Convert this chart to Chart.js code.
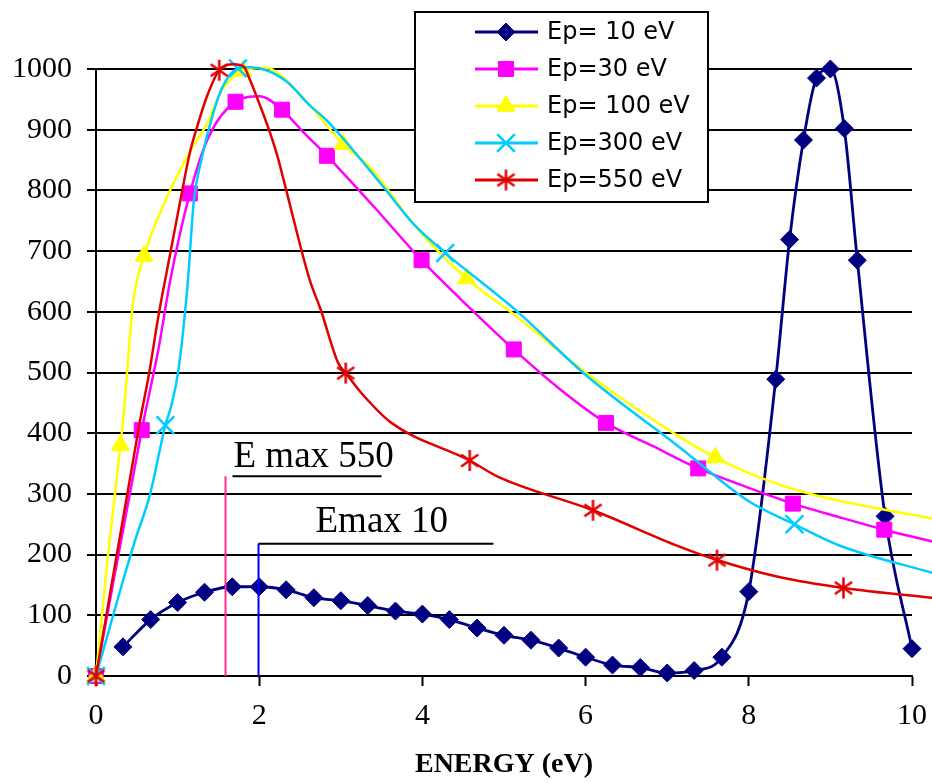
<!DOCTYPE html>
<html>
<head>
<meta charset="utf-8">
<title>Energy distribution</title>
<script src="https://cdn.jsdelivr.net/npm/chart.js@4.4.1/dist/chart.umd.min.js"></script>
<style>
  html, body { margin: 0; padding: 0; background: #fff; }
  #wrap { width: 932px; height: 783px; }
</style>
</head>
<body>
<div id="wrap"><canvas id="energy-chart" width="932" height="783"></canvas></div>
<script>
// series names
const labels = ["Ep= 10 eV", "Ep=30 eV", "Ep= 100 eV", "Ep=300 eV", "Ep=550 eV"];

// Ep = 10 eV
const x10 = [0.33, 0.67, 1.0, 1.33, 1.67, 2.0, 2.33, 2.67, 3.0, 3.33, 3.67, 4.0, 4.33, 4.67, 5.0, 5.33,
  5.67, 6.0, 6.33, 6.67, 7.0, 7.33, 7.67, 8.0, 8.33, 8.5, 8.67, 8.83, 9.0, 9.17, 9.33, 9.67, 10.0];
const y10 = [48, 93, 121, 138, 147, 147, 142, 129, 124, 116, 107, 102, 93, 79, 67, 59,
  46, 31, 18, 14, 5, 9, 31, 139, 489, 719, 883, 985, 1000, 902, 685, 263, 45];
const marks10 = x10;

// Ep = 30 eV
const x30 = [0, 0.56, 0.77, 0.91, 1.15, 1.38, 1.71, 2.0, 2.28, 2.54, 2.83, 3.42, 3.99, 4.56, 5.12, 5.69,
  6.25, 6.82, 7.38, 7.96, 8.54, 9.1, 9.66, 10.3];
const y30 = [0, 405, 542, 652, 795, 888, 946, 955, 933, 896, 857, 771, 685, 609, 538, 472,
  417, 379, 342, 312, 284, 262, 241, 220];
const marks30 = [0, 0.56, 1.15, 1.71, 2.28, 2.83, 3.99, 5.12, 6.25, 7.38, 8.54, 9.66];

// Ep = 100 eV
const x100 = [0, 0.14, 0.3, 0.345, 0.38, 0.455, 0.59, 0.87, 1.16, 1.38, 1.52, 1.8, 2.09, 2.26, 2.62,
  3.03, 3.36, 3.6, 3.85, 4.54, 5.11, 6.05, 7.15, 7.59, 7.97, 8.7, 10.3];
const y100 = [0, 190, 380, 440, 498, 616, 692, 789, 866, 915, 960, 997, 1002, 990, 940,
  876, 838, 797, 751, 655, 597, 495, 394, 360, 336, 302, 258];
const marks100 = [0, 0.3, 0.59, 1.8, 3.03, 4.54, 7.59];

// Ep = 300 eV
const x300 = [0, 0.32, 0.48, 0.66, 0.85, 0.93, 1.01, 1.12, 1.2, 1.28, 1.44, 1.56, 1.74, 1.89, 2.09,
  2.34, 2.62, 2.83, 3.52, 3.89, 4.28, 5.15, 6.01, 7.15, 8.0, 8.56, 9.11, 10.3];
const y300 = [0, 152, 224, 298, 413, 449, 504, 641, 784, 844, 929, 973, 1001, 1003, 998,
  979, 940, 915, 806, 745, 697, 602, 495, 377, 288, 250, 215, 168];
const marks300 = [0, 0.85, 1.74, 4.28, 8.56];

// Ep = 550 eV
const x550 = [0, 0.54, 0.65, 0.77, 0.91, 1.05, 1.15, 1.24, 1.36, 1.51, 1.69, 1.81, 1.89, 2.01, 2.13,
  2.22, 2.3, 2.62, 2.75, 2.97, 3.06, 3.26, 3.62, 4.58, 4.93, 6.09, 7.15, 7.61, 8.37, 9.16, 10.3];
const y550 = [0, 421, 498, 597, 696, 795, 862, 905, 955, 998, 1008, 1004, 981, 940, 896,
  858, 817, 652, 605, 515, 499, 465, 417, 355, 328, 273, 213, 191, 163, 145, 128];
const marks550 = [0, 1.51, 3.06, 4.58, 6.09, 7.61, 9.16];

// energy of the maxima, marked with a vertical bar
const emaxLabels = ["E max 550", "Emax 10"];
const emaxEnergy = [1.58, 1.98];
const emaxHeight = [329, 218];

const xTicks = [0, 2, 4, 6, 8, 10];

const colors = ["#000080", "#ff00ff", "#ffff00", "#00ccff", "#e00000"];
const emaxColors = ["#ff2b8f", "#0000ff"];
const serif = "'Liberation Serif', 'Times New Roman', serif";

// six armed star for the 550 eV curve
function asterisk(color, r) {
  const c = document.createElement("canvas");
  c.width = c.height = Math.ceil(2 * r + 4);
  const g = c.getContext("2d");
  const m = c.width / 2;
  g.strokeStyle = color;
  g.lineWidth = 2.5;
  g.beginPath();
  [90, 35, 145].forEach((a) => {
    const dx = r * Math.cos((a * Math.PI) / 180);
    const dy = r * Math.sin((a * Math.PI) / 180);
    g.moveTo(m - dx, m - dy);
    g.lineTo(m + dx, m + dy);
  });
  g.stroke();
  return c;
}

const markers = [
  { style: "rectRot", radius: 9, border: 1 },
  { style: "rect", radius: 10.6, border: 1 },
  { style: "triangle", radius: 10.5, border: 1 },
  { style: "crossRot", radius: 12.5, border: 2.5 },
  { style: asterisk(colors[4], 10.5), radius: 10, border: 1 },
];

function makeSeries(i, xs, ys, marks) {
  const m = markers[i];
  const hasMark = (c) => c.dataIndex !== undefined && marks.includes(xs[c.dataIndex]);
  return {
    label: labels[i],
    data: xs.map((x, k) => ({ x: x, y: ys[k] })),
    borderColor: colors[i],
    backgroundColor: colors[i],
    borderWidth: i === 0 ? 2.8 : 2.5,
    cubicInterpolationMode: "monotone",
    clip: false,
    order: 4 - i,
    pointStyle: (c) => (hasMark(c) ? m.style : "circle"),
    pointRadius: (c) => (hasMark(c) ? m.radius : 0),
    pointBorderWidth: m.border,
    pointHoverRadius: 0,
  };
}

const datasets = [
  makeSeries(0, x10, y10, marks10),
  makeSeries(1, x30, y30, marks30),
  makeSeries(2, x100, y100, marks100),
  makeSeries(3, x300, y300, marks300),
  makeSeries(4, x550, y550, marks550),
];

// vertical bars, captions and the boxed key
const overlay = {
  id: "overlay",
  afterDatasetsDraw(chart) {
    const { ctx } = chart;
    const xs = chart.scales.x;
    const ys = chart.scales.y;
    const offsets = [
      { from: 7, to: 156, textX: 8, textY: 9 },
      { from: 0, to: 235, textX: 57, textY: 12 },
    ];
    ctx.save();
    ctx.lineCap = "butt";
    emaxEnergy.forEach((e, i) => {
      const px = Math.round(xs.getPixelForValue(e)) + 0.5;
      const top = ys.getPixelForValue(emaxHeight[i]);
      const o = offsets[i];
      ctx.strokeStyle = emaxColors[i];
      ctx.lineWidth = 2;
      ctx.beginPath();
      ctx.moveTo(px, ys.getPixelForValue(0));
      ctx.lineTo(px, top);
      ctx.stroke();

      ctx.strokeStyle = "#000";
      ctx.beginPath();
      ctx.moveTo(px + o.from, top);
      ctx.lineTo(px + o.to, top);
      ctx.stroke();

      ctx.fillStyle = "#000";
      ctx.font = "37px " + serif;
      ctx.textBaseline = "alphabetic";
      ctx.textAlign = "left";
      ctx.fillText(emaxLabels[i], px + o.textX, top - o.textY);
    });
    ctx.restore();
  },
  afterDraw(chart) {
    const { ctx } = chart;
    const box = { left: 415, top: 12, width: 293, height: 190 };
    ctx.save();
    ctx.fillStyle = "#fff";
    ctx.fillRect(box.left, box.top, box.width, box.height);
    ctx.strokeStyle = "#000";
    ctx.lineWidth = 2;
    ctx.strokeRect(box.left, box.top, box.width, box.height);

    chart.data.datasets.forEach((ds, i) => {
      const m = markers[i];
      const cy = box.top + 20 + i * 37;
      ctx.strokeStyle = colors[i];
      ctx.lineWidth = 3;
      ctx.beginPath();
      ctx.moveTo(475, cy);
      ctx.lineTo(538, cy);
      ctx.stroke();

      ctx.fillStyle = colors[i];
      ctx.lineWidth = m.border;
      Chart.helpers.drawPoint(ctx, {
        pointStyle: m.style,
        radius: m.radius,
        rotation: 0,
        borderWidth: m.border,
      }, 506, cy);

      ctx.fillStyle = "#000";
      ctx.font = "24px 'DejaVu Sans', sans-serif";
      ctx.textBaseline = "middle";
      ctx.textAlign = "left";
      ctx.fillText(ds.label, 547, cy + 1);
    });
    ctx.restore();
  },
};

const chart = new Chart(document.getElementById("energy-chart"), {
  type: "line",
  data: { datasets: datasets },
  plugins: [overlay],
  options: {
    responsive: false,
    devicePixelRatio: 1,
    animation: false,
    layout: { padding: { left: 0, right: 20, top: 69, bottom: 0 } },
    plugins: {
      legend: { display: false },
      tooltip: { enabled: false },
    },
    scales: {
      x: {
        type: "linear",
        min: 0,
        max: 10,
        afterBuildTicks: (scale) => {
          scale.ticks = xTicks.map((v) => ({ value: v }));
        },
        afterFit: (scale) => {
          scale.height = 107;
          scale.paddingLeft = 0;
          scale.paddingRight = 0;
        },
        grid: {
          drawOnChartArea: false,
          drawTicks: true,
          tickLength: 10,
          tickWidth: 2,
          tickColor: "#000",
        },
        border: { display: true, color: "#000", width: 2 },
        ticks: {
          color: "#000",
          font: { family: serif, size: 30 },
          padding: 12,
          maxRotation: 0,
          callback: (v) => String(v),
        },
        title: {
          display: true,
          text: "ENERGY (eV)",
          color: "#000",
          font: { family: serif, size: 28, weight: "bold" },
          padding: { top: 0, bottom: 1 },
        },
      },
      y: {
        min: 0,
        max: 1000,
        afterFit: (scale) => {
          scale.width = 96;
        },
        grid: {
          color: "#000",
          lineWidth: 2,
          drawTicks: true,
          tickLength: 9,
          tickColor: "#000",
        },
        border: { display: true, color: "#000", width: 2 },
        ticks: {
          stepSize: 100,
          color: "#000",
          font: { family: serif, size: 30 },
          padding: 15,
          callback: (v) => String(v),
        },
      },
    },
  },
});
</script>
</body>
</html>
